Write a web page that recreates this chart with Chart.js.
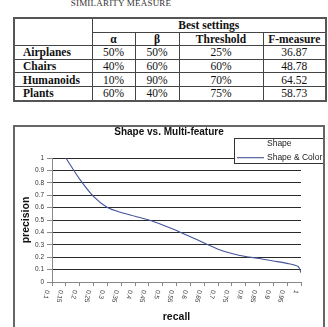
<!DOCTYPE html>
<html>
<head>
<meta charset="utf-8">
<script src="https://cdn.jsdelivr.net/npm/chart.js@4.4.1/dist/chart.umd.min.js"></script>
<style>
    html, body { margin: 0; padding: 0; width: 328px; height: 327px; overflow: hidden; background: #fff; }
    #caption {
        position: absolute; left: 0; top: -1px; width: 242px; text-align: center;
        font: 9px/9px 'Liberation Serif', 'Times New Roman', serif; color: #333; letter-spacing: 0.2px;
    }
    table {
        position: absolute; left: 13px; top: 17px; width: 312px; table-layout: fixed;
        border-collapse: collapse; border: 2px solid #555;
        font-family: 'Liberation Serif', 'Times New Roman', serif; font-size: 11.5px; color: #111;
    }
    td, th { border: 1px solid #444; padding: 0; height: 12.6px; line-height: 12px; text-align: center; font-weight: normal; }
    th { font-weight: bold; }
    td.name { text-align: left; padding-left: 8px; font-weight: bold; }
    #box {
        position: absolute; left: 13px; top: 125px; width: 308px; height: 220px;
        border: 2px solid #666; border-bottom: none;
    }
    #chart { position: absolute; left: 15px; top: 127px; }
</style>
</head>
<body>
<div id="caption">SIMILARITY MEASURE</div>
<table>
    <colgroup>
        <col style="width:78px"><col style="width:43px"><col style="width:44px"><col style="width:84px"><col style="width:63px">
    </colgroup>
    <tr><th rowspan="2"></th><th colspan="4">Best settings</th></tr>
    <tr><th>α</th><th>β</th><th>Threshold</th><th>F-measure</th></tr>
    <tr><td class="name">Airplanes</td><td>50%</td><td>50%</td><td>25%</td><td>36.87</td></tr>
    <tr><td class="name">Chairs</td><td>40%</td><td>60%</td><td>60%</td><td>48.78</td></tr>
    <tr><td class="name">Humanoids</td><td>10%</td><td>90%</td><td>70%</td><td>64.52</td></tr>
    <tr><td class="name">Plants</td><td>60%</td><td>40%</td><td>75%</td><td>58.73</td></tr>
</table>
<div id="box"></div>
<canvas id="chart" width="308" height="200"></canvas>
<script>
// recall axis (x) ticks and labels
const recallTicks = [0.1, 0.15, 0.2, 0.25, 0.3, 0.35, 0.4, 0.45, 0.5, 0.55, 0.6, 0.65, 0.7, 0.75, 0.8, 0.85, 0.9, 0.95, 1];
const recallTickLabels = ['0.1', '0.15', '0.2', '0.25', '0.3', '0.35', '0.4', '0.45', '0.5', '0.55', '0.6', '0.65', '0.7', '0.75', '0.8', '0.85', '0.9', '0.95', '1'];

// precision axis (y) ticks and labels
const precisionTicks = [0, 0.1, 0.2, 0.3, 0.4, 0.5, 0.6, 0.7, 0.8, 0.9, 1];
const precisionTickLabels = ['0', '0.1', '0.2', '0.3', '0.4', '0.5', '0.6', '0.7', '0.8', '0.9', '1'];

// series
const seriesNames = ['Shape', 'Shape & Color'];
const shapeRecall = [];
const shapePrecision = [];
const shapeColorRecall = [0.15, 0.2, 0.25, 0.3, 0.35, 0.4, 0.45, 0.5, 0.55, 0.6, 0.65, 0.7, 0.75, 0.8, 0.85, 0.9, 0.95, 0.99, 1];
const shapeColorPrecision = [1.0, 0.83, 0.69, 0.6, 0.56, 0.53, 0.5, 0.46, 0.415, 0.365, 0.315, 0.265, 0.23, 0.205, 0.19, 0.17, 0.15, 0.125, 0.075];

const FONT = '"Liberation Sans", Arial, sans-serif';
Chart.defaults.font.family = FONT;

function points(xs, ys) {
    return xs.map((x, i) => ({ x: x, y: ys[i] }));
}

// x tick labels read top-to-bottom, so draw them by hand from the scale
const xLabels = {
    id: 'xLabels',
    afterDraw(chart) {
        const ctx = chart.ctx;
        const sx = chart.scales.x;
        ctx.save();
        ctx.font = '6.5px ' + FONT;
        ctx.fillStyle = '#333';
        ctx.textAlign = 'left';
        ctx.textBaseline = 'middle';
        recallTicks.forEach((v, i) => {
            ctx.save();
            ctx.translate(sx.getPixelForValue(v) - 5, sx.top + 8);
            ctx.rotate(100 * Math.PI / 180);
            ctx.fillText(recallTickLabels[i], 0, 0);
            ctx.restore();
        });
        ctx.restore();
    }
};

// boxed legend in the top right corner
const legendBox = {
    id: 'legendBox',
    afterDraw(chart) {
        const ctx = chart.ctx;
        const left = 219, top = 11, width = 90, height = 26;
        ctx.save();
        ctx.fillStyle = '#fff';
        ctx.fillRect(left, top, width, height);
        ctx.strokeStyle = '#333';
        ctx.lineWidth = 1;
        ctx.strokeRect(left + 0.5, top + 0.5, width - 1, height - 1);
        ctx.font = '8.5px ' + FONT;
        ctx.fillStyle = '#222';
        ctx.textBaseline = 'middle';
        chart.data.datasets.forEach((ds, i) => {
            const y = top + 5.5 + i * 14.2;
            ctx.strokeStyle = ds.borderColor;
            ctx.lineWidth = ds.borderWidth;
            ctx.beginPath();
            ctx.moveTo(left + 3, y);
            ctx.lineTo(left + 30, y);
            ctx.stroke();
            ctx.fillText(ds.label, left + 33, y);
        });
        ctx.restore();
    }
};

new Chart(document.getElementById('chart'), {
    type: 'line',
    data: {
        datasets: [
            {
                label: seriesNames[0],
                data: points(shapeRecall, shapePrecision),
                borderColor: 'rgba(0,0,0,0)',
                borderWidth: 1,
                pointRadius: 0,
            },
            {
                label: seriesNames[1],
                data: points(shapeColorRecall, shapeColorPrecision),
                borderColor: '#42539a',
                borderWidth: 1.1,
                pointRadius: 0,
                tension: 0.25,
            },
        ],
    },
    options: {
        responsive: false,
        animation: false,
        devicePixelRatio: 1,
        layout: { padding: 0 },
        scales: {
            x: {
                type: 'linear',
                min: 0.1,
                max: 1,
                afterBuildTicks: (s) => { s.ticks = recallTicks.map(v => ({ value: v })); },
                ticks: { display: false },
                grid: { drawOnChartArea: false, drawTicks: true, tickLength: 4, tickColor: '#888' },
                border: { color: '#888' },
                title: {
                    display: true, text: 'recall', color: '#111',
                    font: { family: FONT, size: 10.5, weight: 'bold' }, padding: { top: 0, bottom: 4 },
                },
                afterFit: (s) => { s.height = 45; },
            },
            y: {
                type: 'linear',
                min: 0,
                max: 1,
                afterBuildTicks: (s) => { s.ticks = precisionTicks.map(v => ({ value: v })); },
                ticks: {
                    callback: (v, i) => precisionTickLabels[i],
                    font: { family: FONT, size: 6.5 }, color: '#333', padding: 3,
                },
                grid: { color: '#2a2a2a', lineWidth: 1, tickLength: 5, tickColor: '#888' },
                border: { color: '#888' },
                title: {
                    display: true, text: 'precision', color: '#111',
                    font: { family: FONT, size: 10.5, weight: 'bold' }, padding: { top: 5, bottom: 0 },
                },
                afterFit: (s) => { s.width = 37; },
            },
            y1: {
                type: 'linear',
                position: 'right',
                grid: { display: false },
                border: { display: false },
                ticks: { display: false },
                afterFit: (s) => { s.width = 22; },
            },
        },
        plugins: {
            legend: { display: false },
            tooltip: { enabled: false },
            title: {
                display: true,
                text: 'Shape vs. Multi-feature',
                color: '#111',
                font: { family: FONT, size: 10, weight: 'bold', lineHeight: 1 },
                padding: { top: 0, bottom: 21 },
            },
        },
    },
    plugins: [xLabels, legendBox],
});
</script>
</body>
</html>
